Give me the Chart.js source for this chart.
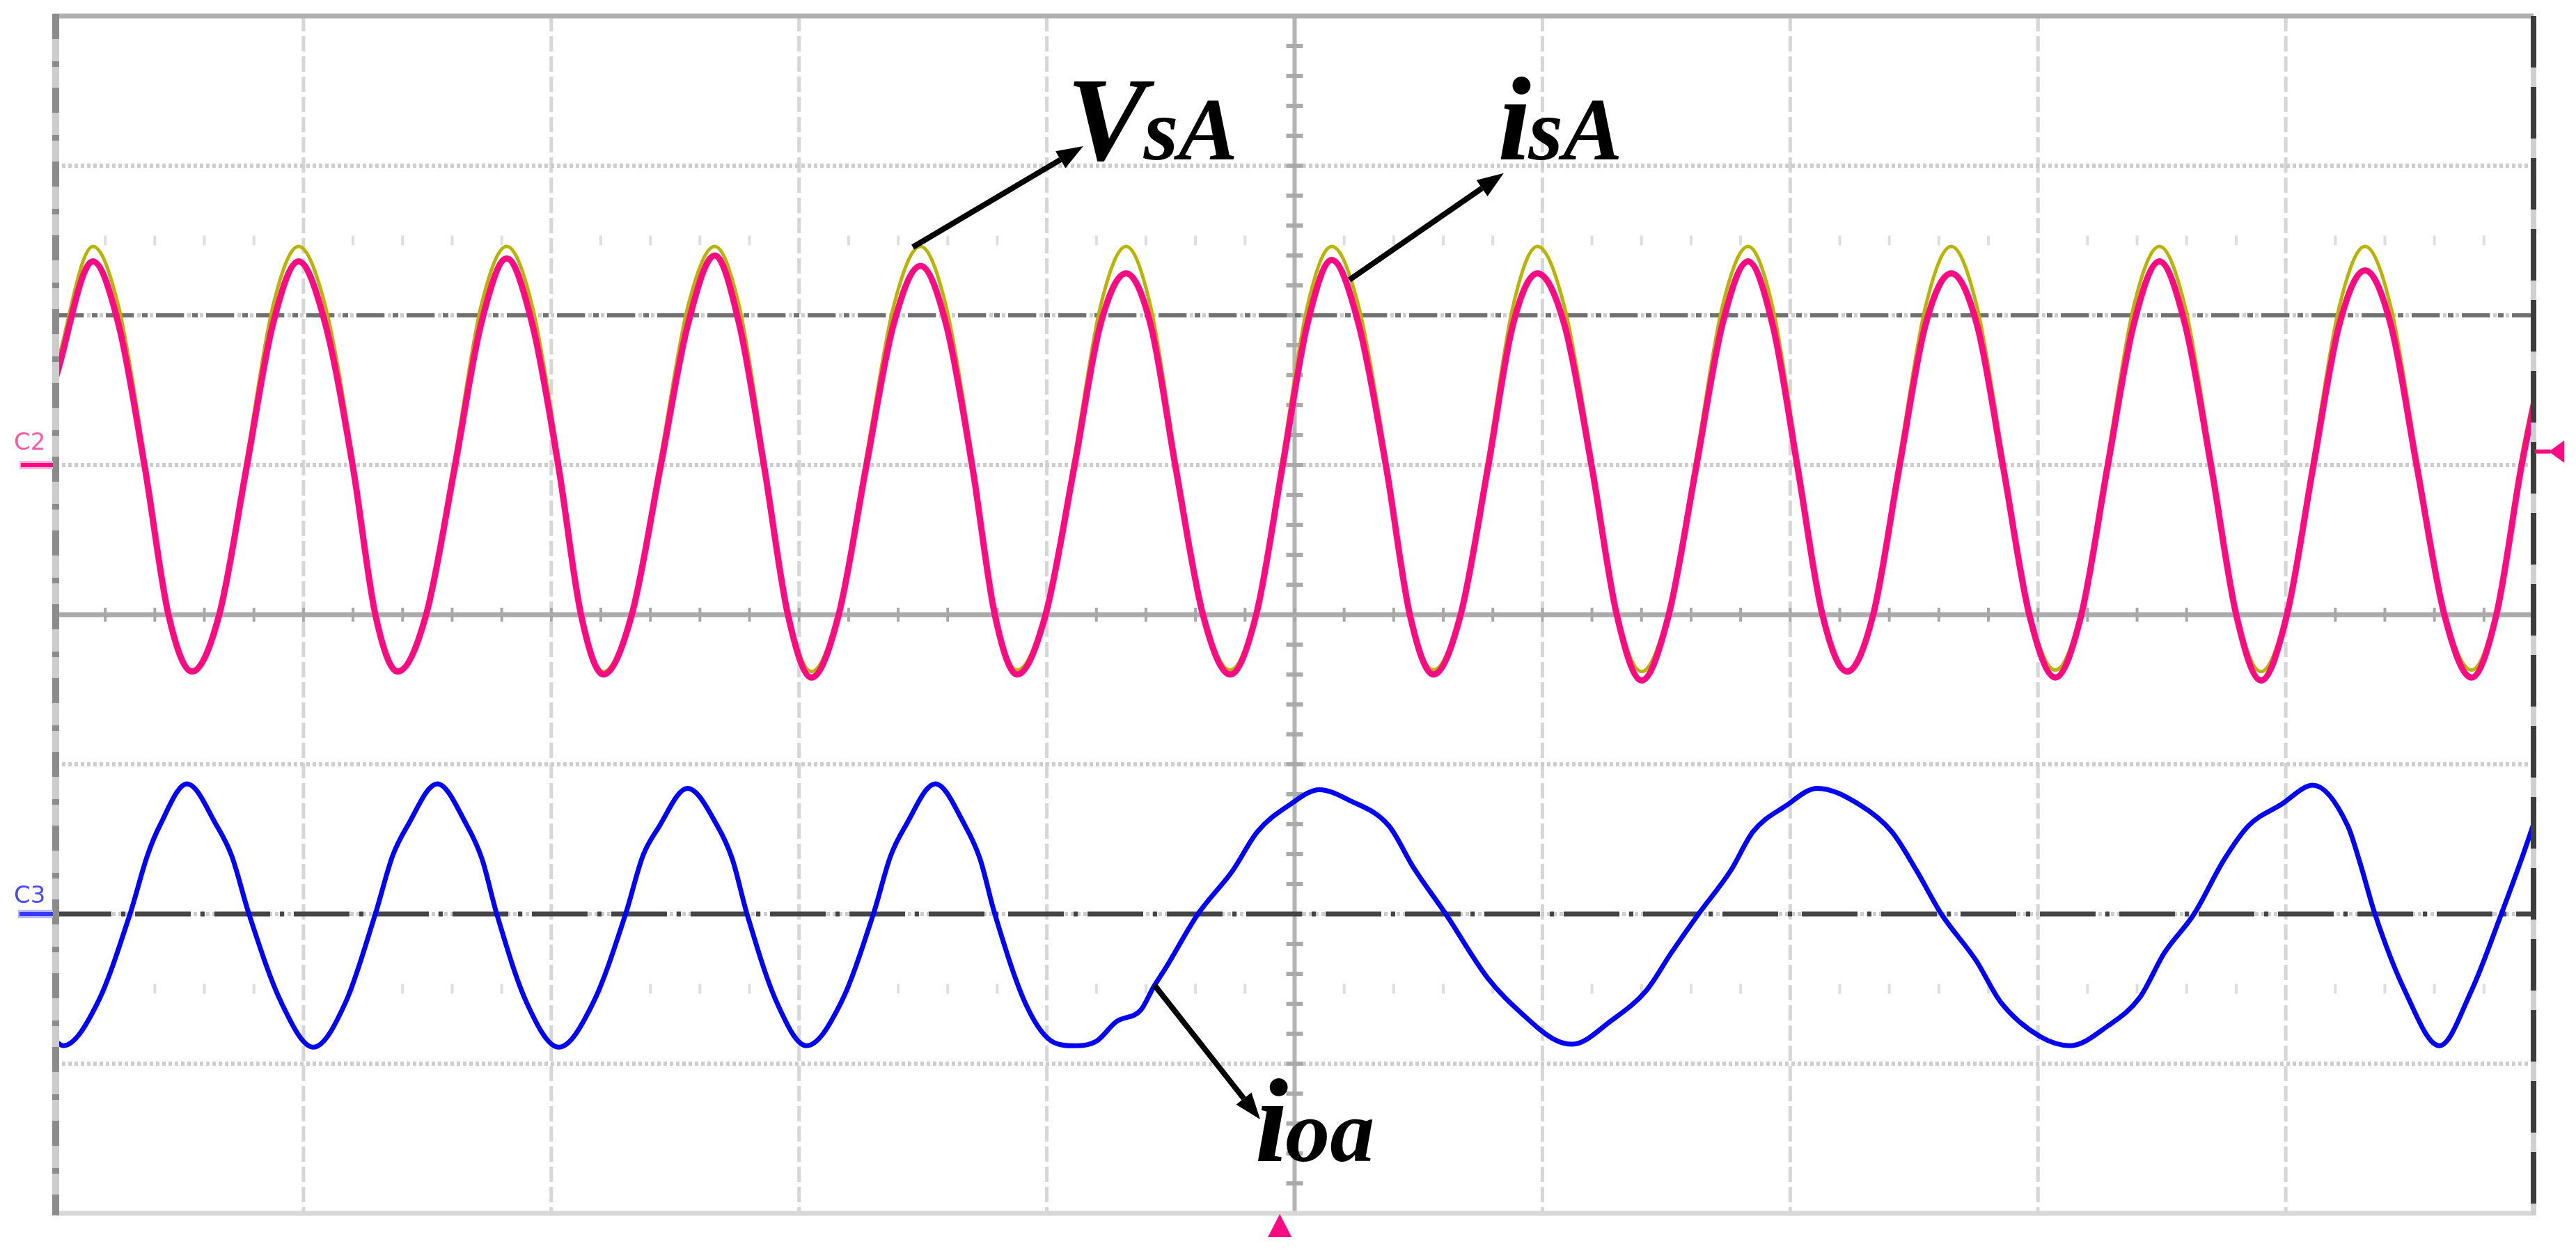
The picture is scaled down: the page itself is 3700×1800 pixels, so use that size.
<!DOCTYPE html>
<html>
<head>
<meta charset="utf-8">
<script src="https://cdn.jsdelivr.net/npm/chart.js@4.4.0/dist/chart.umd.min.js"></script>
<style>
  html, body { margin: 0; padding: 0; background: #fff; }
  #wrap { width: 3700px; height: 1800px; }
</style>
</head>
<body>
<div id="wrap"><canvas id="scope" width="3700" height="1800"></canvas></div>
<script>
// Oscilloscope capture: time in divisions (0..10), amplitude in divisions (-4..4)

// CH2 (isA, pink) and VsA (yellow) share the same sample times
const waveT = [
  0.00, 0.15, 0.255, 0.36, 0.455, 0.55, 0.66, 0.77, 0.875,
  0.98, 1.09, 1.20, 1.29, 1.38, 1.495, 1.61, 1.715,
  1.82, 1.925, 2.03, 2.12, 2.21, 2.325, 2.44, 2.55,
  2.66, 2.76, 2.86, 2.955, 3.05, 3.16, 3.27, 3.38,
  3.49, 3.595, 3.70, 3.79, 3.88, 3.995, 4.11, 4.215,
  4.32, 4.42, 4.52, 4.63, 4.74, 4.845, 4.95, 5.05,
  5.15, 5.26, 5.37, 5.465, 5.56, 5.67, 5.78, 5.88,
  5.98, 6.09, 6.20, 6.30, 6.40, 6.51, 6.62, 6.725,
  6.83, 6.93, 7.03, 7.13, 7.23, 7.335, 7.44, 7.545,
  7.65, 7.755, 7.86, 7.965, 8.07, 8.175, 8.28, 8.385,
  8.49, 8.595, 8.70, 8.80, 8.90, 9.005, 9.11, 9.215,
  9.32, 9.425, 9.53, 9.64, 9.75, 9.85, 9.95, 10.00
];

const vsA = [
  1.64, 2.46, 2.05, 1.04, 0.03, -0.37, 0.03, 1.04, 2.05,
  2.46, 2.05, 1.04, 0.03, -0.37, 0.03, 1.04, 2.05,
  2.46, 2.05, 1.04, 0.03, -0.38, 0.03, 1.04, 2.05,
  2.46, 2.05, 1.04, 0.03, -0.38, 0.03, 1.04, 2.05,
  2.46, 2.05, 1.04, 0.03, -0.37, 0.03, 1.04, 2.05,
  2.46, 2.05, 1.04, 0.03, -0.37, 0.03, 1.04, 2.05,
  2.46, 2.05, 1.04, 0.03, -0.37, 0.03, 1.04, 2.05,
  2.46, 2.05, 1.04, 0.03, -0.38, 0.03, 1.04, 2.05,
  2.46, 2.05, 1.04, 0.03, -0.37, 0.03, 1.04, 2.05,
  2.46, 2.05, 1.04, 0.03, -0.37, 0.03, 1.04, 2.05,
  2.46, 2.05, 1.04, 0.03, -0.38, 0.03, 1.04, 2.05,
  2.46, 2.05, 1.04, 0.03, -0.37, 0.03, 1.04, 1.45
];

const isA = [
  1.58, 2.36, 1.93, 0.98, 0.00, -0.38, 0.00, 0.98, 1.93,
  2.36, 1.93, 0.98, 0.00, -0.38, 0.00, 0.98, 1.93,
  2.38, 1.93, 0.98, 0.00, -0.40, 0.00, 0.98, 1.93,
  2.40, 1.93, 0.98, 0.00, -0.42, 0.00, 0.98, 1.93,
  2.33, 1.93, 0.98, 0.00, -0.40, 0.00, 0.98, 1.93,
  2.28, 1.93, 0.98, 0.00, -0.40, 0.00, 0.98, 1.93,
  2.37, 1.93, 0.98, 0.00, -0.40, 0.00, 0.98, 1.93,
  2.28, 1.93, 0.98, 0.00, -0.44, 0.00, 0.98, 1.93,
  2.36, 1.93, 0.98, 0.00, -0.38, 0.00, 0.98, 1.93,
  2.28, 1.93, 0.98, 0.00, -0.42, 0.00, 0.98, 1.93,
  2.36, 1.93, 0.98, 0.00, -0.44, 0.00, 0.98, 1.93,
  2.30, 1.93, 0.98, 0.00, -0.42, 0.00, 0.98, 1.40
];

// CH3 (ioa, blue)
const ioaT = [
  0.00, 0.03, 0.17, 0.30, 0.37, 0.42, 0.53, 0.65, 0.71, 0.78, 0.91,
  1.04, 1.17, 1.29, 1.36, 1.42, 1.54, 1.66, 1.72, 1.78, 1.90,
  2.03, 2.17, 2.30, 2.37, 2.43, 2.55, 2.67, 2.73, 2.79, 2.91,
  3.03, 3.17, 3.30, 3.37, 3.43, 3.55, 3.67, 3.73, 3.79, 3.92,
  4.03, 4.11, 4.20, 4.28, 4.38, 4.43, 4.48, 4.61, 4.75, 4.85, 4.98,
  5.10, 5.22, 5.38, 5.48, 5.61, 5.78, 5.92, 6.05,
  6.12, 6.28, 6.42, 6.52, 6.63, 6.76, 6.85, 6.98,
  7.11, 7.28, 7.41, 7.51, 7.61, 7.75, 7.85, 8.01,
  8.13, 8.28, 8.41, 8.51, 8.63, 8.75, 8.85, 8.98,
  9.11, 9.25, 9.30, 9.36, 9.48, 9.62, 9.75, 9.87, 9.95, 10.00
];

const ioa = [
  -2.85, -2.88, -2.59, -2.00, -1.61, -1.41, -1.13, -1.41, -1.61, -2.00, -2.59,
  -2.89, -2.59, -2.00, -1.61, -1.41, -1.13, -1.41, -1.63, -2.00, -2.59,
  -2.89, -2.59, -2.00, -1.61, -1.43, -1.16, -1.41, -1.63, -2.00, -2.59,
  -2.88, -2.59, -2.00, -1.61, -1.41, -1.13, -1.41, -1.63, -2.00, -2.62,
  -2.86, -2.88, -2.85, -2.72, -2.64, -2.49, -2.36, -2.00, -1.71, -1.45, -1.27,
  -1.17, -1.24, -1.41, -1.69, -2.00, -2.43, -2.67, -2.84,
  -2.87, -2.71, -2.51, -2.26, -2.00, -1.71, -1.45, -1.28,
  -1.16, -1.27, -1.45, -1.71, -2.00, -2.31, -2.59, -2.82,
  -2.88, -2.75, -2.56, -2.26, -2.00, -1.64, -1.41, -1.27,
  -1.14, -1.41, -1.66, -2.00, -2.51, -2.88, -2.51, -2.00, -1.64, -1.40
];

// graticule
const xDivs = [0, 1, 2, 3, 4, 5, 6, 7, 8, 9, 10];
const yDivs = [-4, -3, -2, -1, 0, 1, 2, 3, 4];
const minorRows = [2.5, -2.5];
const cursorLevels = [2, -2];

// channel / trigger markers
const ch2Level = 1;
const ch3Level = -2;
const trigLevel = 1.09;
const trigTime = 4.94;

// annotations (data coordinates)
const labels = [
  { main: 'V', sub: 'sA', x: 4.08, y: 3.04 },
  { main: 'i', sub: 'sA', x: 5.82, y: 3.04 },
  { main: 'i', sub: 'oa', x: 4.84, y: -3.65 }
];
const arrows = [
  { from: [3.459, 2.456], to: [4.147, 3.13] },
  { from: [5.221, 2.237], to: [5.844, 2.95] },
  { from: [4.434, -2.474], to: [4.861, -3.372] }
];

function pts(t, v) {
  return t.map((tt, i) => ({ x: tt, y: v[i] }));
}

function strokeLine(ctx, x1, y1, x2, y2, color, width, dash) {
  ctx.beginPath();
  ctx.setLineDash(dash || []);
  ctx.strokeStyle = color;
  ctx.lineWidth = width;
  ctx.moveTo(x1, y1);
  ctx.lineTo(x2, y2);
  ctx.stroke();
}

const graticule = {
  id: 'graticule',
  beforeDatasetsDraw(chart) {
    const { ctx, chartArea: a, scales: { x, y } } = chart;
    ctx.save();
    // division lines
    xDivs.forEach(v => {
      if (v === 0 || v === 10 || v === 5) return;
      const px = x.getPixelForValue(v);
      strokeLine(ctx, px, a.top, px, a.bottom, '#d6d6d6', 5, [22, 7]);
    });
    yDivs.forEach(v => {
      if (v === -4 || v === 4 || v === 0) return;
      const py = y.getPixelForValue(v);
      strokeLine(ctx, a.left, py, a.right, py, '#cdcdcd', 6, [5, 4]);
    });
    // minor tick rows
    ctx.setLineDash([]);
    for (let k = 1; k < 50; k++) {
      if (k % 5 === 0) continue;
      const px = x.getPixelForValue(k * 0.2);
      minorRows.forEach(r => {
        const py = y.getPixelForValue(r);
        strokeLine(ctx, px, py - 7, px, py + 7, '#dedede', 4);
      });
    }
    // center cross with ticks
    const cy = y.getPixelForValue(0);
    const cx = x.getPixelForValue(5);
    strokeLine(ctx, a.left, cy, a.right, cy, '#aaaaaa', 7);
    strokeLine(ctx, cx, a.top, cx, a.bottom, '#b4b4b4', 6);
    for (let k = 1; k < 50; k++) {
      const px = x.getPixelForValue(k * 0.2);
      strokeLine(ctx, px, cy - 10, px, cy + 10, '#a8a8a8', 4);
    }
    for (let k = 1; k < 40; k++) {
      const py = y.getPixelForValue(-4 + k * 0.2);
      strokeLine(ctx, cx - 12, py, cx + 12, py, '#aaaaaa', 6);
    }
    // cursor / reference lines
    strokeLine(ctx, a.left, y.getPixelForValue(cursorLevels[0]), a.right, y.getPixelForValue(cursorLevels[0]), '#707070', 6, [40, 12, 8, 12]);
    strokeLine(ctx, a.left, y.getPixelForValue(cursorLevels[1]), a.right, y.getPixelForValue(cursorLevels[1]), '#454545', 7, [80, 14, 6, 14]);
    ctx.restore();
  },
  afterDatasetsDraw(chart) {
    const { ctx, chartArea: a, scales: { x, y } } = chart;
    ctx.save();
    // frame
    strokeLine(ctx, a.left - 4, a.top, a.right, a.top, '#b0b0b0', 7);
    strokeLine(ctx, a.left, a.bottom, a.right, a.bottom, '#d8d8d8', 7);
    strokeLine(ctx, a.left, a.top - 3, a.left, a.bottom + 3, '#cccccc', 10);
    strokeLine(ctx, a.left, a.top - 3, a.left, a.bottom + 3, '#8c8c8c', 10, [36, 32, 8, 30]);
    strokeLine(ctx, a.right, a.top, a.right, a.bottom + 3, '#d0d0d0', 8);
    strokeLine(ctx, a.right, a.top, a.right, a.bottom + 3, '#3c3c3c', 8, [74, 28]);

    // arrows
    ctx.setLineDash([]);
    arrows.forEach(ar => {
      const x1 = x.getPixelForValue(ar.from[0]), y1 = y.getPixelForValue(ar.from[1]);
      const x2 = x.getPixelForValue(ar.to[0]), y2 = y.getPixelForValue(ar.to[1]);
      const ang = Math.atan2(y2 - y1, x2 - x1);
      const hl = 38, hw = 14;
      const bx = x2 - hl * Math.cos(ang), by = y2 - hl * Math.sin(ang);
      strokeLine(ctx, x1, y1, bx, by, '#000', 8);
      ctx.beginPath();
      ctx.fillStyle = '#000';
      ctx.moveTo(x2, y2);
      ctx.lineTo(bx + hw * Math.sin(ang), by - hw * Math.cos(ang));
      ctx.lineTo(bx - hw * Math.sin(ang), by + hw * Math.cos(ang));
      ctx.closePath();
      ctx.fill();
    });

    // labels
    ctx.fillStyle = '#000';
    ctx.textBaseline = 'alphabetic';
    ctx.textAlign = 'left';
    labels.forEach(l => {
      const px = x.getPixelForValue(l.x), py = y.getPixelForValue(l.y);
      ctx.font = 'italic bold 172px "Liberation Serif", "DejaVu Serif", serif';
      ctx.fillText(l.main, px, py);
      const w = ctx.measureText(l.main).width;
      ctx.font = 'italic bold 128px "Liberation Serif", "DejaVu Serif", serif';
      ctx.fillText(l.sub, px + w - 4, py);
    });
    ctx.restore();
  },
  afterDraw(chart) {
    const { ctx, chartArea: a, scales: { x, y } } = chart;
    ctx.save();
    ctx.setLineDash([]);
    // channel ground markers
    const y2 = y.getPixelForValue(ch2Level);
    const y3 = y.getPixelForValue(ch3Level);
    strokeLine(ctx, 28, y2, a.left - 4, y2, '#ffb8d8', 12);
    strokeLine(ctx, 30, y2, a.left - 4, y2, '#ff0a82', 6);
    strokeLine(ctx, 26, y3, a.left - 4, y3, '#b8b8ff', 12);
    strokeLine(ctx, 28, y3, a.left - 4, y3, '#3a3aff', 6);
    ctx.font = '34px "DejaVu Sans", sans-serif';
    ctx.textAlign = 'left';
    ctx.textBaseline = 'alphabetic';
    ctx.fillStyle = '#ff5aa5';
    ctx.fillText('C2', 20, y2 - 22);
    ctx.fillStyle = '#4a4aff';
    ctx.fillText('C3', 20, y3 - 16);

    // trigger level marker (right)
    const ty = y.getPixelForValue(trigLevel);
    ctx.fillStyle = '#ff0a82';
    strokeLine(ctx, a.right + 2, ty, a.right + 24, ty, '#ff0a82', 6);
    ctx.beginPath();
    ctx.moveTo(a.right + 22, ty);
    ctx.lineTo(a.right + 44, ty - 16);
    ctx.lineTo(a.right + 44, ty + 16);
    ctx.closePath();
    ctx.fill();

    // trigger position marker (bottom)
    const tx = x.getPixelForValue(trigTime);
    ctx.beginPath();
    ctx.moveTo(tx, a.bottom + 1);
    ctx.lineTo(tx + 17, a.bottom + 34);
    ctx.lineTo(tx - 17, a.bottom + 34);
    ctx.closePath();
    ctx.fill();
    ctx.restore();
  }
};

const chart = new Chart(document.getElementById('scope'), {
  type: 'line',
  data: {
    datasets: [
      { label: 'ioa', data: pts(ioaT, ioa), borderColor: '#0000ff', borderWidth: 7, order: 0 },
      { label: 'isA', data: pts(waveT, isA), borderColor: '#ff0a82', borderWidth: 9, order: 1 },
      { label: 'VsA', data: pts(waveT, vsA), borderColor: '#b8b400', borderWidth: 5, order: 2 }
    ]
  },
  options: {
    responsive: false,
    animation: false,
    devicePixelRatio: 1,
    layout: { padding: { left: 80, right: 61, top: 23, bottom: 57 } },
    elements: {
      point: { radius: 0 },
      line: { cubicInterpolationMode: 'monotone', fill: false }
    },
    scales: {
      x: { type: 'linear', min: 0, max: 10, display: false },
      y: { type: 'linear', min: -4, max: 4, display: false }
    },
    plugins: {
      legend: { display: false },
      tooltip: { enabled: false }
    }
  },
  plugins: [graticule]
});
</script>
</body>
</html>
